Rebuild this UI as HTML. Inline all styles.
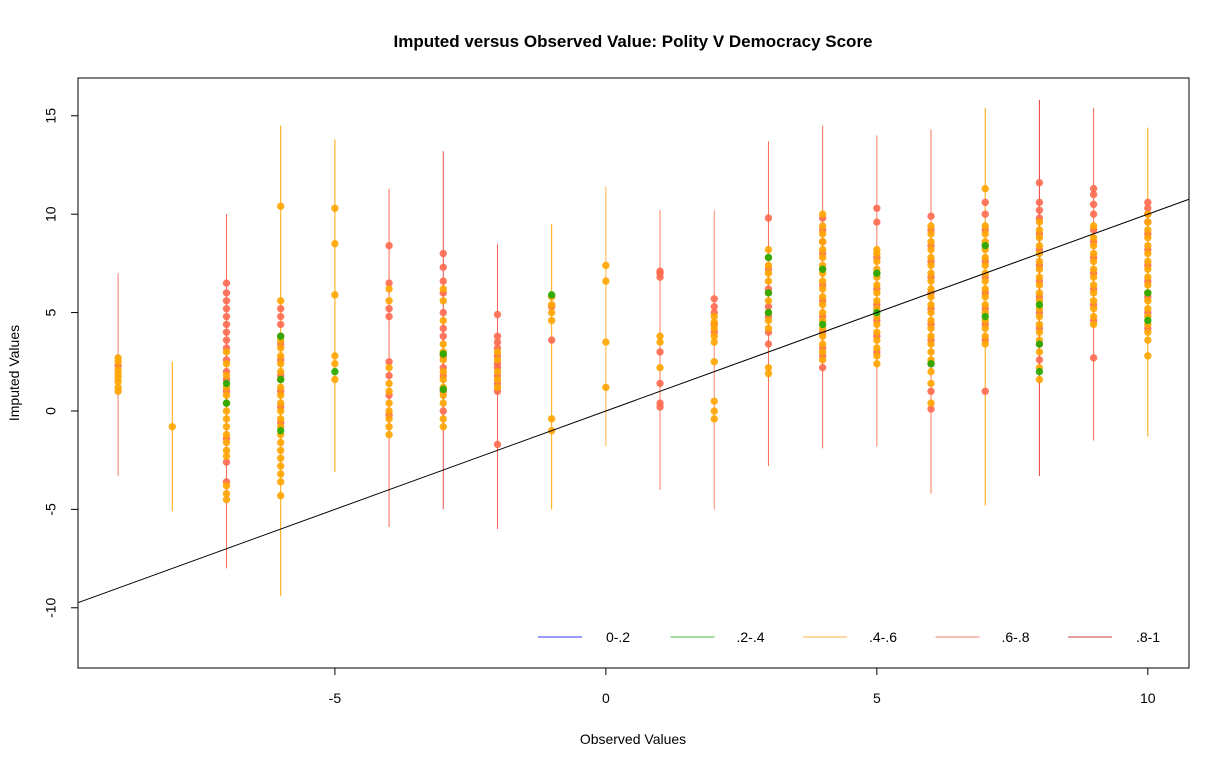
<!DOCTYPE html>
<html><head><meta charset="utf-8"><style>
body{margin:0;background:#fff;}
svg{display:block;font-family:"Liberation Sans",Arial,sans-serif;}
</style></head><body>
<svg id="chart" width="1230" height="767">
<rect x="0" y="0" width="1230" height="767" fill="#fff"/>
<text x="633" y="47" text-anchor="middle" font-size="17" font-weight="bold">Imputed versus Observed Value: Polity V Democracy Score</text>
<text x="633" y="744" text-anchor="middle" font-size="14">Observed Values</text>
<text x="19" y="373" text-anchor="middle" font-size="14" transform="rotate(-90 19 373)">Imputed Values</text>
<g id="segs"></g><g id="pts"></g><g id="axes"></g>
<rect x="78" y="78" width="1111" height="590" fill="none" stroke="#000" stroke-width="1"/>
</svg>
<script>
const colX=[-9,-8,-7,-6,-5,-4,-3,-2,-1,0,1,2,3,4,5,6,7,8,9,10];
const segLo=[-3.3,-5.1,-8,-9.4,-3.1,-5.9,-5,-6,-5,-1.8,-4,-5,-2.8,-1.9,-1.8,-4.2,-4.8,-3.3,-1.5,-1.3];
const segHi=[7,2.5,10,14.5,13.8,11.3,13.2,8.5,9.5,11.4,10.2,10.2,13.7,14.5,14,14.3,15.4,15.8,15.4,14.4];
const segColor=["#F08070","#FFA500","#FF6A50","#FFA500","#FFA500","#FF6A50","#E05050","#F06050","#FFA500","#FFB347","#FF7A60","#FF8A70","#FF6A50","#FF6A50","#FF7A60","#FF7A60","#FFA500","#F04040","#FF6A50","#FFA500"];
const orangeY=[[1,1.2,1.5,1.7,1.9,2.1,2.5,2.7],[-0.8],[-4.5,-4.2,-3.8,-2.3,-2,-1.6,-1.2,-0.8,-0.4,0,0.4,0.8,1.2,1.8,2.4,3],[-4.3,-3.6,-3.2,-2.8,-2.4,-2,-1.6,-1.2,-0.8,-0.4,0,0.4,0.8,1.2,1.6,2,2.4,2.8,3.2,3.6,5.6,10.4],[1.6,2.4,2.8,5.9,8.5,10.3],[-1.2,-0.8,-0.4,0,0.4,1,1.4,2.2,5.6,6.2],[-0.8,-0.4,0.4,0.8,1.2,1.6,2,2.6,3,3.4,4.6,5.6,6.2],[1.2,1.6,2,2.6,3],[-1,-0.4,4.6,5,5.4,5.8],[1.2,3.5,6.6,7.4],[2.2,3.5,3.8],[-0.4,0,0.5,2.5,3.5,3.8,4.2,4.5,4.8],[1.9,2.2,4.2,4.6,5,5.6,6,6.6,7,7.4,7.8,8.2],[2.6,3,3.4,3.8,4.2,4.6,5,5.4,5.8,6.2,6.6,7,7.4,7.8,8.2,8.6,9,9.4,10],[2.4,2.8,3.2,3.6,4,4.4,4.8,5.2,5.6,6,6.4,6.8,7.2,7.6,8,8.2],[0.4,1.4,2,2.6,3,3.4,3.8,4.2,4.6,5,5.4,5.8,6.2,6.6,7,7.4,7.8,8.2,8.6,9,9.4],[3.4,3.8,4.2,4.6,5,5.4,5.8,6.2,6.6,7,7.4,7.8,8.2,8.6,9,9.4,11.3],[1.6,2.2,3,3.6,4,4.4,4.8,5.2,5.6,6,6.4,6.8,7.2,7.6,8,8.4,8.8,9.2,9.6],[4.4,4.8,5.2,5.6,6,6.4,6.8,7.2,7.6,8,8.4,8.8,9.4],[2.8,3.6,4,4.4,4.8,5.2,5.6,6,6.4,6.8,7.2,7.6,8,8.4,8.8,9.2,9.6,10]];
const redY=[[2.3],[],[-3.6,-2.6,-1.4,1,1.6,2,2.6,3.2,3.6,4,4.4,4.8,5.2,5.6,6,6.5],[-0.6,0.2,1,1.8,2.6,3.4,3.8,4.4,4.8,5.2],[],[-0.2,0.8,1.8,2.5,4.8,5.2,6.5,8.4],[0,1,1.8,2.2,2.8,3.8,4.2,5,6,6.6,7.3,8],[-1.7,1,1.4,1.8,2.2,2.4,2.8,3.2,3.5,3.8,4.9],[3.6,5.3],[],[0.2,0.4,1.4,3,6.8,7,7.1],[4,4.4,5,5.3,5.7],[3.4,4,4.8,5.3,6.2,7.2,9.8],[2.2,2.8,3.2,4,4.8,5.6,6.4,7.2,8,8.6,9.2,9.8],[3,3.8,4.6,5.4,6.2,7,7.8,9.6,10.3],[0.1,1,2.4,3.6,4.4,5.2,6,6.8,7.6,8.4,9.2,9.9],[1,3.6,4.4,5.2,6,6.8,7.6,8.4,9.2,10,10.6],[2.6,3.4,4.2,5,5.8,6.6,7.4,8.2,9,9.8,10.2,10.6,11.6],[2.7,4.6,5.4,6.2,7,7.8,8.6,9.2,10,10.5,11,11.3],[4.2,5,5.8,6.6,7.4,8.2,9,9.6,10,10.3,10.6]];
const greenY=[[],[],[0.4,1.4],[-1,1.6,3.8],[2],[],[1.1,2.9],[],[5.9],[],[],[],[5,6,7.8],[4.4,7.2],[5,7],[2.4],[4.8,8.4],[2,3.4,5.4],[],[4.6,6]];
const xTicks=[-5,0,5,10];
const yTicks=[-10,-5,0,5,10,15];
const legendLabels=["0-.2",".2-.4",".4-.6",".6-.8",".8-1"];
const legendColors=["#3333FF","#44BB44","#FFB347","#F08070","#C04040"];

const X0=78,X1=1189,Y0=668,Y1=78,xmin=-9.74,xmax=10.76,ymin=-13.06,ymax=16.92;
const sx=v=>X0+(v-xmin)/(xmax-xmin)*(X1-X0);
const sy=v=>Y0-(v-ymin)/(ymax-ymin)*(Y0-Y1);
const NS="http://www.w3.org/2000/svg";
function mk(tag,attrs,parent){const e=document.createElementNS(NS,tag);for(const k in attrs)e.setAttribute(k,attrs[k]);parent.appendChild(e);return e;}
const segs=document.getElementById('segs'),pts=document.getElementById('pts'),axes=document.getElementById('axes');

colX.forEach((cx,i)=>{
  const l=mk('line',{x1:sx(cx),x2:sx(cx),y1:sy(segLo[i]),y2:sy(segHi[i]),stroke:segColor[i],'stroke-width':1},segs);
  
  
});
function drawPts(arr,color){
  colX.forEach((cx,i)=>{arr[i].forEach(v=>{
    const c=mk('circle',{cx:sx(cx),cy:sy(v),r:3.7,fill:color,'fill-opacity':0.9},pts);
    
    
  });});
}
drawPts(redY,"#FF6A50");
drawPts(orangeY,"#FFA500");
drawPts(greenY,"#22AA00");

const ref=mk('line',{x1:sx(xmin),y1:sy(xmin),x2:sx(xmax),y2:sy(xmax),stroke:'#000','stroke-width':1},axes);



xTicks.forEach(t=>{
  mk('line',{x1:sx(t),x2:sx(t),y1:668,y2:675,stroke:'#000'},axes);
  const tx=mk('text',{x:sx(t),y:703,'text-anchor':'middle','font-size':14},axes);
  tx.textContent=t;
  
  
});
yTicks.forEach(t=>{
  mk('line',{x1:71,x2:78,y1:sy(t),y2:sy(t),stroke:'#000'},axes);
  const tx=mk('text',{x:52,y:sy(t),'text-anchor':'middle','font-size':14,transform:`rotate(-90 52 ${sy(t)})`,'dominant-baseline':'middle'},axes);
  tx.textContent=t;
  
  
});
legendLabels.forEach((lab,i)=>{
  const x=538+i*132.5;
  const g=mk('g',{},axes);
  
  
  mk('line',{x1:x,x2:x+44,y1:637,y2:637,stroke:legendColors[i],'stroke-width':1},g);
  const t=mk('text',{x:x+80,y:642,'text-anchor':'middle','font-size':14},g);
  t.textContent=lab;
});
</script>
</body></html>
